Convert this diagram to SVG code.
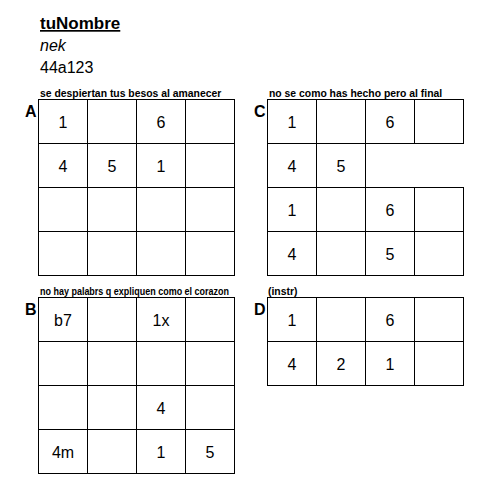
<svg xmlns="http://www.w3.org/2000/svg" width="491" height="493" viewBox="0 0 491 493">
<style>
text{font-family:"Liberation Sans",Arial,sans-serif;fill:#000}
.c{fill:#fff;stroke:#000;stroke-width:1}
.n{font-size:16px;text-anchor:middle}
.lbl{font-size:16px;font-weight:bold}
.sub{font-size:10.4px;font-weight:bold}
</style>
<rect width="491" height="493" fill="#fff"/>
<g id="header">
<text x="40" y="29" font-size="17" font-weight="bold" text-decoration="underline">tuNombre</text>
<text x="40" y="51" font-size="16" font-style="italic">nek</text>
<text x="40" y="73" font-size="16">44a123</text>
</g>
<g id="sectionA">
<text class="sub" x="40" y="96.5">se despiertan tus besos al amanecer</text>
<text class="lbl" x="25" y="117">A</text>
<g id="gridA">
<rect class="c" x="38.5" y="99.5" width="49" height="44"/><rect class="c" x="87.5" y="99.5" width="49" height="44"/><rect class="c" x="136.5" y="99.5" width="49" height="44"/><rect class="c" x="185.5" y="99.5" width="49" height="44"/>
<rect class="c" x="38.5" y="143.5" width="49" height="44"/><rect class="c" x="87.5" y="143.5" width="49" height="44"/><rect class="c" x="136.5" y="143.5" width="49" height="44"/><rect class="c" x="185.5" y="143.5" width="49" height="44"/>
<rect class="c" x="38.5" y="187.5" width="49" height="44"/><rect class="c" x="87.5" y="187.5" width="49" height="44"/><rect class="c" x="136.5" y="187.5" width="49" height="44"/><rect class="c" x="185.5" y="187.5" width="49" height="44"/>
<rect class="c" x="38.5" y="231.5" width="49" height="44"/><rect class="c" x="87.5" y="231.5" width="49" height="44"/><rect class="c" x="136.5" y="231.5" width="49" height="44"/><rect class="c" x="185.5" y="231.5" width="49" height="44"/>
</g>
<text class="n" x="63" y="127.5">1</text><text class="n" x="161" y="127.5">6</text>
<text class="n" x="63" y="171.5">4</text><text class="n" x="112" y="171.5">5</text><text class="n" x="161" y="171.5">1</text>
</g>
<g id="sectionC">
<text class="sub" x="269" y="96.5">no se como has hecho pero al final</text>
<text class="lbl" x="254" y="117">C</text>
<g id="gridC">
<rect class="c" x="267.5" y="99.5" width="49" height="44"/><rect class="c" x="316.5" y="99.5" width="49" height="44"/><rect class="c" x="365.5" y="99.5" width="49" height="44"/><rect class="c" x="414.5" y="99.5" width="49" height="44"/>
<rect class="c" x="267.5" y="143.5" width="49" height="44"/><rect class="c" x="316.5" y="143.5" width="49" height="44"/>
<rect class="c" x="267.5" y="187.5" width="49" height="44"/><rect class="c" x="316.5" y="187.5" width="49" height="44"/><rect class="c" x="365.5" y="187.5" width="49" height="44"/><rect class="c" x="414.5" y="187.5" width="49" height="44"/>
<rect class="c" x="267.5" y="231.5" width="49" height="44"/><rect class="c" x="316.5" y="231.5" width="49" height="44"/><rect class="c" x="365.5" y="231.5" width="49" height="44"/><rect class="c" x="414.5" y="231.5" width="49" height="44"/>
</g>
<text class="n" x="292" y="127.5">1</text><text class="n" x="390" y="127.5">6</text>
<text class="n" x="292" y="171.5">4</text><text class="n" x="341" y="171.5">5</text>
<text class="n" x="292" y="215.5">1</text><text class="n" x="390" y="215.5">6</text>
<text class="n" x="292" y="259.5">4</text><text class="n" x="390" y="259.5">5</text>
</g>
<g id="sectionB">
<text class="sub" x="40" y="295" textLength="189" lengthAdjust="spacingAndGlyphs">no hay palabrs q expliquen como el corazon</text>
<text class="lbl" x="25" y="315">B</text>
<g id="gridB">
<rect class="c" x="38.5" y="297.5" width="49" height="44"/><rect class="c" x="87.5" y="297.5" width="49" height="44"/><rect class="c" x="136.5" y="297.5" width="49" height="44"/><rect class="c" x="185.5" y="297.5" width="49" height="44"/>
<rect class="c" x="38.5" y="341.5" width="49" height="44"/><rect class="c" x="87.5" y="341.5" width="49" height="44"/><rect class="c" x="136.5" y="341.5" width="49" height="44"/><rect class="c" x="185.5" y="341.5" width="49" height="44"/>
<rect class="c" x="38.5" y="385.5" width="49" height="44"/><rect class="c" x="87.5" y="385.5" width="49" height="44"/><rect class="c" x="136.5" y="385.5" width="49" height="44"/><rect class="c" x="185.5" y="385.5" width="49" height="44"/>
<rect class="c" x="38.5" y="429.5" width="49" height="44"/><rect class="c" x="87.5" y="429.5" width="49" height="44"/><rect class="c" x="136.5" y="429.5" width="49" height="44"/><rect class="c" x="185.5" y="429.5" width="49" height="44"/>
</g>
<text class="n" x="63" y="325.5">b7</text><text class="n" x="161" y="325.5">1x</text>
<text class="n" x="161" y="413.5">4</text>
<text class="n" x="63" y="457.5">4m</text><text class="n" x="161" y="457.5">1</text><text class="n" x="210" y="457.5">5</text>
</g>
<g id="sectionD">
<text class="sub" x="268" y="295">(instr)</text>
<text class="lbl" x="254" y="315">D</text>
<g id="gridD">
<rect class="c" x="267.5" y="297.5" width="49" height="44"/><rect class="c" x="316.5" y="297.5" width="49" height="44"/><rect class="c" x="365.5" y="297.5" width="49" height="44"/><rect class="c" x="414.5" y="297.5" width="49" height="44"/>
<rect class="c" x="267.5" y="341.5" width="49" height="44"/><rect class="c" x="316.5" y="341.5" width="49" height="44"/><rect class="c" x="365.5" y="341.5" width="49" height="44"/><rect class="c" x="414.5" y="341.5" width="49" height="44"/>
</g>
<text class="n" x="292" y="325.5">1</text><text class="n" x="390" y="325.5">6</text>
<text class="n" x="292" y="369.5">4</text><text class="n" x="341" y="369.5">2</text><text class="n" x="390" y="369.5">1</text>
</g>
<g id="connectors"/>
</svg>
